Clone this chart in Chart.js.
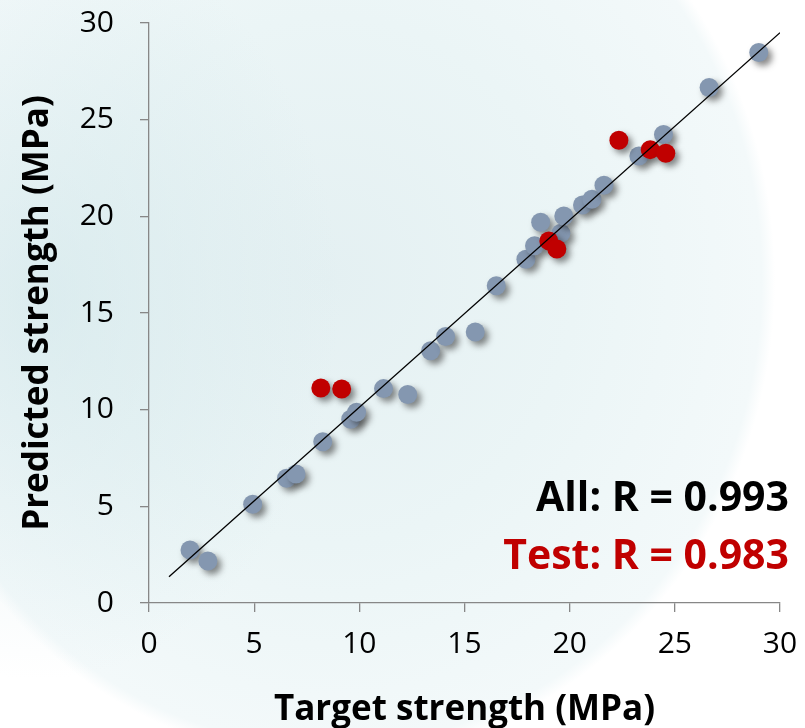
<!DOCTYPE html>
<html>
<head>
<meta charset="utf-8">
<script src="https://cdn.jsdelivr.net/npm/chart.js@4"></script>
<style>
	html, body { margin: 0; padding: 0; background: #fff; }
	#wrap {
		width: 805px;
		height: 728px;
		background:
			radial-gradient(ellipse 300px 380px at 40px 300px,
				rgba(205, 228, 232, 0.55), rgba(205, 228, 232, 0)),
			radial-gradient(ellipse 445px 480px at 330px 280px,
				#e4f0f2 0%, #ebf5f6 55%, #f3f9fa 97%, #ffffff 100%);
	}
</style>
</head>
<body>
<div id="wrap"><canvas id="chart" width="805" height="728"></canvas></div>
<script>
// training points (gray)
var trainX = [1.95, 2.80, 4.93, 6.54, 6.99, 8.26, 9.59, 9.87, 11.15, 12.30, 13.39, 14.10, 15.51,
	16.51, 17.92, 18.33, 18.62, 19.58, 19.72, 20.61, 21.06, 21.63, 23.29, 24.46, 26.63, 28.99];
var trainY = [2.74, 2.17, 5.11, 6.45, 6.67, 8.34, 9.50, 9.87, 11.09, 10.78, 13.05, 13.78, 14.02,
	16.41, 17.78, 18.48, 19.69, 19.13, 20.02, 20.59, 20.88, 21.61, 23.12, 24.23, 26.66, 28.47];

// test points (red)
var testX = [8.17, 9.16, 19.01, 19.39, 22.34, 23.83, 24.57];
var testY = [11.12, 11.07, 18.73, 18.31, 23.94, 23.45, 23.26];

// fitted line
var fitX = [0.95, 30];
var fitY = [1.36, 29.5];

var axisMin = 0, axisMax = 30, axisStep = 5;
var notes = ["All: R = 0.993", "Test: R = 0.983"];

function toPoints(xs, ys) {
	var pts = [];
	for (var i = 0; i < xs.length; i++) {
		pts.push({ x: xs[i], y: ys[i] });
	}
	return pts;
}

var axisColor = "#878787";

// soft drop shadow under the markers
var shadowPlugin = {
	id: "markerShadow",
	beforeDatasetDraw: function (chart, args) {
		var ds = chart.data.datasets[args.index];
		if (!ds.shadow) return;
		var ctx = chart.ctx;
		ctx.save();
		ctx.shadowColor = "rgba(40, 40, 40, 0.55)";
		ctx.shadowBlur = 6;
		ctx.shadowOffsetX = 4;
		ctx.shadowOffsetY = 4;
	},
	afterDatasetDraw: function (chart, args) {
		var ds = chart.data.datasets[args.index];
		if (!ds.shadow) return;
		chart.ctx.restore();
	},
};

var notePlugin = {
	id: "rNotes",
	afterDraw: function (chart) {
		var ctx = chart.ctx;
		ctx.save();
		ctx.font = "bold 41px 'Open Sans'";
		ctx.textAlign = "right";
		ctx.textBaseline = "alphabetic";
		ctx.fillStyle = "#000000";
		ctx.fillText(notes[0], 789, 511);
		ctx.fillStyle = "#c00000";
		ctx.fillText(notes[1], 789, 569);
		ctx.restore();
	},
};

function axisOptions(title, isY) {
	return {
		type: "linear",
		min: axisMin,
		max: axisMax,
		ticks: {
			stepSize: axisStep,
			color: "#000",
			padding: isY ? 26 : 14,
			font: { family: "'Open Sans'", size: 30 },
		},
		grid: {
			drawOnChartArea: false,
			drawTicks: true,
			tickLength: 9,
			color: axisColor,
			lineWidth: 1.3,
		},
		border: { display: true, color: axisColor, width: 1.3 },
		title: {
			display: true,
			text: title,
			color: "#000",
			font: { family: "'Open Sans'", size: 35, weight: "bold" },
			padding: isY ? { top: 17, bottom: 0 } : { top: 0, bottom: -3 },
		},
		afterFit: function (scale) {
			// fixed axis band sizes; let layout padding decide the rest
			if (isY) {
				scale.width = 149;
				scale.paddingTop = 0;
				scale.paddingBottom = 0;
			} else {
				scale.height = 125;
				scale.paddingLeft = 0;
				scale.paddingRight = 0;
			}
		},
	};
}

var chart = new Chart(document.getElementById("chart"), {
	type: "scatter",
	data: {
		datasets: [
			{
				label: "Fit",
				type: "line",
				data: toPoints(fitX, fitY),
				borderColor: "#000",
				borderWidth: 1.3,
				pointRadius: 0,
				fill: false,
				order: 0,
			},
			{
				label: "Test",
				data: toPoints(testX, testY),
				backgroundColor: "#c00000",
				borderWidth: 0,
				pointRadius: 9.5,
				shadow: true,
				order: 1,
			},
			{
				label: "All",
				data: toPoints(trainX, trainY),
				backgroundColor: "#8497b0",
				borderWidth: 0,
				pointRadius: 9.5,
				shadow: true,
				order: 2,
			},
		],
	},
	options: {
		responsive: false,
		animation: false,
		layout: { padding: { top: 23, right: 25, left: 0, bottom: 0 } },
		plugins: {
			legend: { display: false },
			tooltip: { enabled: false },
		},
		scales: {
			x: axisOptions("Target strength (MPa)", false),
			y: axisOptions("Predicted strength (MPa)", true),
		},
	},
	plugins: [shadowPlugin, notePlugin],
});
</script>
</body>
</html>
